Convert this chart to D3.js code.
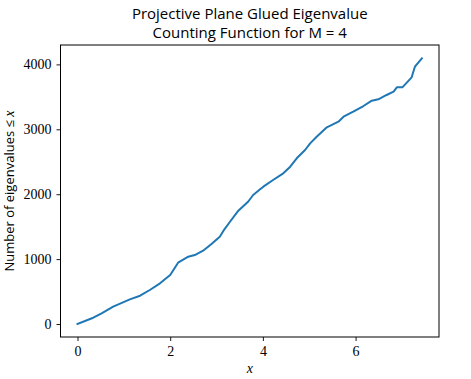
<!DOCTYPE html>
<html>
<head>
<meta charset="utf-8">
<script src="https://cdn.jsdelivr.net/npm/d3@7"></script>
<style>
  body { margin: 0; background: #fff; }
  .title { font-family: 'Open Sans', 'DejaVu Sans', sans-serif; font-size: 15px; fill: #000; }
  .tick text { font-family: 'Liberation Serif', 'DejaVu Serif', serif; font-size: 14px; fill: #000; }
  .ylabel { font-family: 'Open Sans', 'DejaVu Sans', sans-serif; font-size: 13px; }
</style>
</head>
<body>
<script>
var xValues = [0, 0.34, 0.52, 0.77, 1.13, 1.35, 1.56, 1.78, 2.0, 2.17, 2.39, 2.53, 2.71, 2.89, 3.07, 3.15, 3.29, 3.47, 3.68, 3.79, 3.94, 4.01, 4.22, 4.44, 4.59, 4.73, 4.91, 5.02, 5.16, 5.38, 5.63, 5.74, 5.95, 6.17, 6.35, 6.49, 6.67, 6.82, 6.89, 7.01, 7.21, 7.28, 7.43];
var counts = [0, 97, 165, 267, 380, 436, 524, 627, 755, 945, 1037, 1063, 1130, 1233, 1345, 1438, 1576, 1746, 1884, 1988, 2075, 2116, 2219, 2322, 2424, 2553, 2681, 2784, 2886, 3031, 3117, 3194, 3271, 3359, 3441, 3462, 3529, 3580, 3647, 3647, 3801, 3965, 4094];
var xTicks = [0, 2, 4, 6];
var yTicks = [0, 1000, 2000, 3000, 4000];
var titleLines = ['Projective Plane Glued Eigenvalue', 'Counting Function for M = 4'];

var svg = d3.select('body').append('svg').attr('width', 471).attr('height', 379);

var plotLeft = 60.5, plotRight = 439, plotTop = 45, plotBottom = 337;

var x = d3.scaleLinear().domain([-0.367, 7.80]).range([plotLeft, plotRight]);
var y = d3.scaleLinear().domain([-200, 4299]).range([plotBottom, plotTop]);

var data = xValues.map(function (v, i) { return [v, counts[i]]; });

var line = d3.line()
  .x(function (d) { return x(d[0]); })
  .y(function (d) { return y(d[1]); });

svg.append('path')
  .datum(data)
  .attr('d', line)
  .attr('fill', 'none')
  .attr('stroke', '#1f77b4')
  .attr('stroke-width', 2)
  .attr('stroke-linejoin', 'round')
  .attr('stroke-linecap', 'square');

// frame
svg.append('rect')
  .attr('x', plotLeft).attr('y', plotTop)
  .attr('width', plotRight - plotLeft).attr('height', plotBottom - plotTop)
  .attr('fill', 'none').attr('stroke', '#000').attr('stroke-width', 1);

var xAxis = svg.append('g')
  .attr('transform', 'translate(0,' + plotBottom + ')')
  .call(d3.axisBottom(x).tickValues(xTicks).tickSize(4).tickPadding(5).tickFormat(d3.format('d')));
xAxis.select('.domain').remove();

var yAxis = svg.append('g')
  .attr('transform', 'translate(' + plotLeft + ',0)')
  .call(d3.axisLeft(y).tickValues(yTicks).tickSize(4).tickPadding(5).tickFormat(d3.format('d')));
yAxis.select('.domain').remove();

svg.selectAll('.tick line').attr('stroke', '#000').attr('stroke-width', 0.9);

svg.selectAll('.title')
  .data(titleLines)
  .enter()
  .append('text')
  .attr('class', 'title')
  .attr('x', (plotLeft + plotRight) / 2)
  .attr('y', function (d, i) { return 19 + i * 19; })
  .attr('text-anchor', 'middle')
  .text(function (d) { return d; });

svg.append('text')
  .attr('x', (plotLeft + plotRight) / 2)
  .attr('y', 373)
  .attr('text-anchor', 'middle')
  .style('font-family', "'Liberation Serif', 'DejaVu Serif', serif")
  .style('font-style', 'italic')
  .style('font-size', '14px')
  .text('x');

var yl = svg.append('text')
  .attr('class', 'ylabel')
  .attr('transform', 'translate(14,' + (plotTop + plotBottom) / 2 + ') rotate(-90)')
  .attr('text-anchor', 'middle');
yl.append('tspan').text('Number of eigenvalues \u2264 ');
yl.append('tspan')
  .style('font-family', "'Liberation Serif', 'DejaVu Serif', serif")
  .style('font-style', 'italic')
  .style('font-size', '14px')
  .text('x');
</script>
</body>
</html>
